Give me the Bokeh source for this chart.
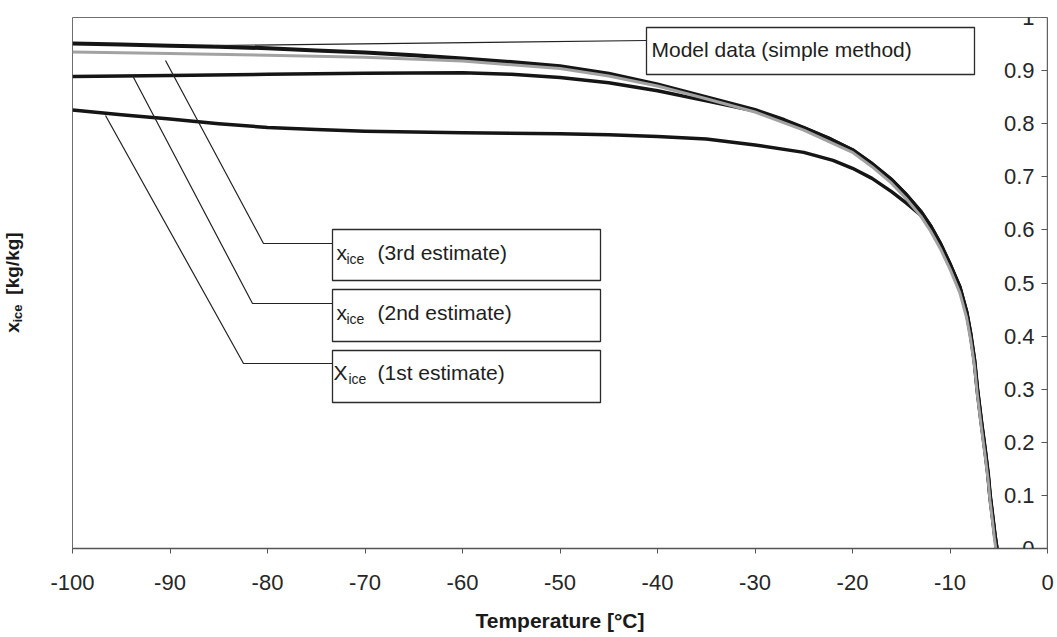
import math
from bokeh.plotting import figure
from bokeh.layouts import row
from bokeh.models import FixedTicker, BoxAnnotation, Label, Range1d
from bokeh.embed import file_html
from bokeh.resources import INLINE

# ---------------- data ----------------
temp_model = [-100, -95, -90, -85, -80, -75, -70, -65, -60, -55, -50, -45, -40, -35, -30,
              -27, -25, -22.5, -20, -18, -16, -14.5, -13, -12, -11, -10, -9, -8.3, -7.9,
              -7.5, -7.2, -6.8, -6.4, -6.1, -5.9, -5.6, -5.4, -5.2]
xice_model = [0.951, 0.949, 0.947, 0.945, 0.942, 0.938, 0.934, 0.929, 0.923, 0.916, 0.908,
              0.894, 0.874, 0.850, 0.826, 0.807, 0.792, 0.773, 0.750, 0.724, 0.694, 0.666,
              0.634, 0.607, 0.574, 0.535, 0.492, 0.445, 0.405, 0.355, 0.300, 0.240, 0.185,
              0.140, 0.100, 0.055, 0.025, 0.0]

temp_est3 = [-100, -90, -80, -70, -60, -50, -45, -40, -35, -30, -25, -20, -18, -16, -14.5,
             -13, -12, -11, -10, -9, -8.3, -7.9, -7.5, -7.2, -6.8, -6.4, -6.1, -5.9, -5.6,
             -5.45, -5.3]
xice_est3 = [0.935, 0.932, 0.929, 0.925, 0.918, 0.904, 0.890, 0.871, 0.847, 0.822, 0.788,
             0.746, 0.719, 0.688, 0.659, 0.626, 0.598, 0.565, 0.526, 0.482, 0.435, 0.395,
             0.345, 0.290, 0.230, 0.175, 0.130, 0.090, 0.045, 0.020, 0.0]

temp_est2 = [-100, -90, -80, -70, -60, -55, -50, -45, -40, -35, -30, -27, -25, -22.5, -20,
             -18, -16, -14.5, -13, -12, -11, -10, -9, -8.3, -7.9, -7.5, -7.2, -6.8, -6.4,
             -6.1, -5.9, -5.6, -5.4, -5.2]
xice_est2 = [0.889, 0.891, 0.893, 0.895, 0.896, 0.893, 0.887, 0.877, 0.862, 0.843, 0.824,
             0.806, 0.792, 0.773, 0.751, 0.725, 0.695, 0.667, 0.635, 0.608, 0.575, 0.536,
             0.493, 0.446, 0.406, 0.356, 0.301, 0.241, 0.186, 0.141, 0.101, 0.056, 0.026, 0.0]

temp_est1 = [-100, -95, -90, -85, -80, -75, -70, -60, -50, -45, -40, -35, -30, -25, -22,
             -20, -18, -16, -14.5, -13, -12, -11, -10, -9, -8.3, -7.9, -7.5, -7.2, -6.8,
             -6.4, -6.1, -5.9, -5.6, -5.4, -5.2]
xice_est1 = [0.826, 0.817, 0.809, 0.800, 0.793, 0.789, 0.786, 0.783, 0.781, 0.779, 0.776,
             0.771, 0.760, 0.746, 0.731, 0.716, 0.697, 0.672, 0.651, 0.628, 0.604, 0.572,
             0.534, 0.491, 0.444, 0.404, 0.354, 0.299, 0.239, 0.184, 0.139, 0.099, 0.054,
             0.024, 0.0]

x_ticks = [-100, -90, -80, -70, -60, -50, -40, -30, -20, -10, 0]
x_tick_labels = ["-100", "-90", "-80", "-70", "-60", "-50", "-40", "-30", "-20", "-10", "0"]
y_ticks = [0, 0.1, 0.2, 0.3, 0.4, 0.5, 0.6, 0.7, 0.8, 0.9, 1]
y_tick_labels = ["0", "0.1", "0.2", "0.3", "0.4", "0.5", "0.6", "0.7", "0.8", "0.9", "1"]

x_title = "Temperature [°C]"
y_title = ("x", "ice", "[kg/kg]")
model_label = "Model data (simple method)"
est_labels = [("x", "ice", "(3rd estimate)"),
              ("x", "ice", "(2nd estimate)"),
              ("X", "ice", "(1st estimate)")]

# ---------------- layout ----------------
TOTAL_W, H = 1057, 637
LW = 24                      # narrow strip holding the y-axis title
MW = TOTAL_W - LW            # main chart width
BL, BR, BT, BB = 48, 10, 17, 89
FONT = "Liberation Sans"
TXT = "#262626"

p = figure(width=MW, height=H, x_range=Range1d(-100, 0), y_range=Range1d(0, 1),
           output_backend="svg", toolbar_location=None,
           min_border_left=BL, min_border_right=BR, min_border_top=BT,
           min_border_bottom=BB, background_fill_color="white",
           border_fill_color="white")

p.xgrid.visible = False
p.ygrid.visible = False
p.outline_line_color = "#6e6e6e"
p.outline_line_width = 1

# x axis
xa = p.xaxis[0]
xa.ticker = FixedTicker(ticks=x_ticks)
xa.major_label_overrides = dict(zip(x_ticks, x_tick_labels))
xa.minor_tick_line_color = None
xa.major_tick_in = 0
xa.major_tick_out = 5
xa.major_tick_line_color = "#555555"
xa.axis_line_color = "#555555"
xa.axis_line_width = 1.4
xa.major_label_standoff = 21
xa.major_label_text_font = FONT
xa.major_label_text_font_size = "22px"
xa.major_label_text_color = TXT
xa.axis_label = x_title
xa.axis_label_text_font = FONT
xa.axis_label_text_font_style = "bold"
xa.axis_label_text_font_size = "21px"
xa.axis_label_text_color = "#1a1a1a"
xa.axis_label_standoff = 16

# y axis drawn at x = 0 (right edge) with labels inside
ya = p.yaxis[0]
ya.fixed_location = 0
ya.ticker = FixedTicker(ticks=y_ticks)
ya.major_label_overrides = dict(zip(y_ticks, y_tick_labels))
ya.minor_tick_line_color = None
ya.minor_tick_out = 0
ya.major_tick_in = 0
ya.major_tick_out = 6
ya.major_tick_line_color = "#555555"
ya.axis_line_color = "#555555"
ya.axis_line_width = 1.4
ya.major_label_standoff = 7
ya.major_label_text_font = FONT
ya.major_label_text_font_size = "22px"
ya.major_label_text_color = TXT

# ---------------- curves ----------------
p.line(temp_est1, xice_est1, line_color="#151515", line_width=3.5, line_join="round")
p.line(temp_est2, xice_est2, line_color="#151515", line_width=3.5, line_join="round")
p.line(temp_model, xice_model, line_color="#151515", line_width=4, line_join="round")
p.line(temp_est3, xice_est3, line_color="#a2a2a2", line_width=3, line_join="round")

# ---------------- callouts (positions in page pixels) ----------------
FX0, FX1 = LW + BL, LW + MW - BR
FY0, FY1 = BT, H - BB


def dx(px):
    return -100 + (px - FX0) * 100.0 / (FX1 - FX0)


def dy(py):
    return (FY1 - py) / float(FY1 - FY0)


def leader(pts):
    p.line([dx(a) for a, b in pts], [dy(b) for a, b in pts],
           line_color="#222222", line_width=1.2)


leader([(213, 45), (646, 40)])
leader([(165, 60), (263, 243), (332, 243)])
leader([(132, 75), (252, 303), (332, 303)])
leader([(105, 115), (243, 363), (332, 363)])


def box(l, r, t, b):
    p.add_layout(BoxAnnotation(left=dx(l), right=dx(r), top=dy(t), bottom=dy(b),
                               fill_color="white", fill_alpha=1.0,
                               line_color="#2a2a2a", line_width=1.3, line_alpha=1.0))


def text(px, py, s, size="21px", style="normal"):
    p.add_layout(Label(x=dx(px), y=dy(py), text=s, text_font=FONT,
                       text_font_size=size, text_font_style=style,
                       text_color="#1e1e1e", text_align="left",
                       text_baseline="alphabetic"))


box(646, 974, 27, 74)
text(651, 49, model_label)

box_tops = [229, 289, 350]
box_bottoms = [280, 341, 402]
baselines = [252, 312, 372]
sub_x = [346, 346, 348]
for (main, sub, rest), tp, b, bl, sx in zip(est_labels, box_tops, box_bottoms, baselines, sub_x):
    box(332, 600, tp, b)
    text(336 if main == "x" else 333, bl, main)
    text(sx, bl + 6, sub, size="14px")
    text(377, bl, rest)

# ---------------- y axis title strip ----------------
# In a row, Bokeh aligns the frames vertically, so the strip's frame spans the
# same page rows as the main frame (BT .. H-BB).  Map page-pixel y directly.
t = figure(width=LW, height=H, x_range=Range1d(0, LW), y_range=Range1d(BB, H - BT),
           output_backend="svg", toolbar_location=None,
           x_axis_location=None, y_axis_location=None,
           min_border_left=0, min_border_right=0, min_border_top=BT, min_border_bottom=BB,
           background_fill_color="white", border_fill_color="white")
t.outline_line_color = None
t.xgrid.visible = False
t.ygrid.visible = False

# (center x, center y in page pixels from top, size) for each piece of the rotated title
for s, (cx, cy), size in zip(y_title, [(11.5, 327), (16.5, 313), (11.5, 263)],
                             ["19px", "13px", "19px"]):
    t.add_layout(Label(x=cx, y=H - cy, text=s, text_font=FONT, text_font_size=size,
                       text_font_style="bold", text_color="#1a1a1a",
                       text_align="center", text_baseline="middle",
                       angle=math.pi / 2))

layout = row(t, p)
open("out.html", "w").write(file_html(layout, INLINE))
